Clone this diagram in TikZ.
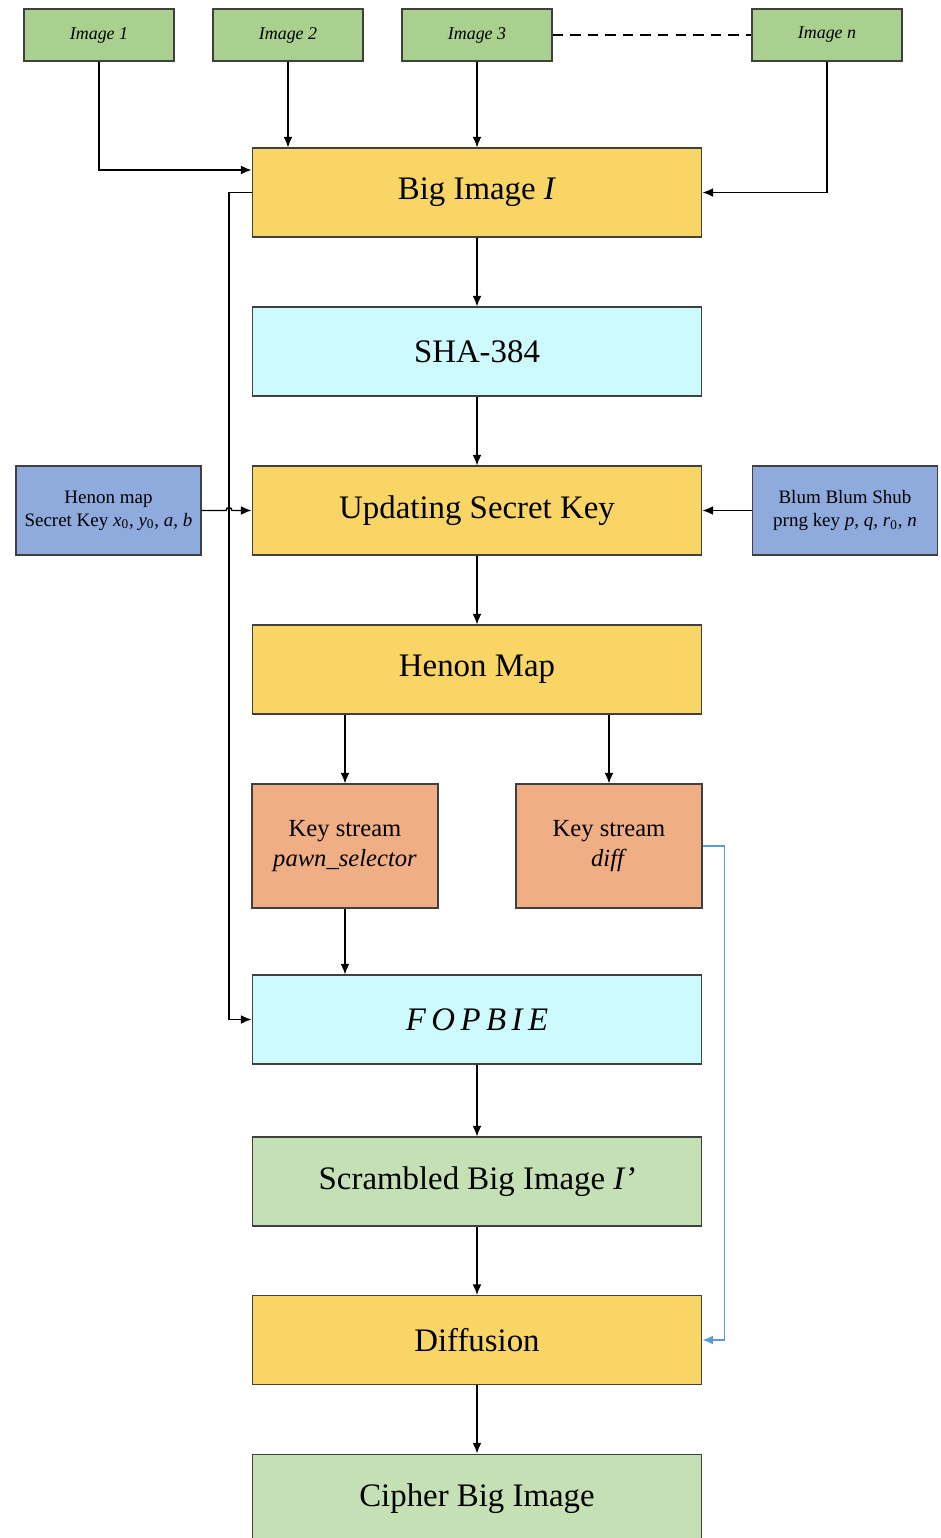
\documentclass[tikz,border=0pt]{standalone}
\usepackage{fontspec}
\setmainfont{Liberation Serif}
\usepackage{tikz}
\usetikzlibrary{arrows.meta}
\usetikzlibrary{calc}

\definecolor{imggreen}{HTML}{A9D08E}
\definecolor{stageyellow}{HTML}{F9D566}
\definecolor{hashcyan}{HTML}{CCFAFD}
\definecolor{keyblue}{HTML}{8FAADC}
\definecolor{streamorange}{HTML}{EFAE84}
\definecolor{outgreen}{HTML}{C5E0B4}
\definecolor{linkblue}{HTML}{5B9BD5}

\tikzset{
    box/.style={draw=black!75, line width=0.6pt, inner sep=0pt, align=center},
    imgbox/.style={box, fill=imggreen, minimum width=3cm, minimum height=1.04cm, font=\fontsize{10.2}{12}\selectfont\itshape},
    stage/.style={box, minimum width=9cm, minimum height=1.78cm, font=\fontsize{18.7}{22}\selectfont},
    keybox/.style={box, fill=keyblue, minimum width=3.7cm, minimum height=1.78cm, font=\fontsize{10.8}{13}\selectfont},
    streambox/.style={box, fill=streamorange, minimum width=3.72cm, minimum height=2.48cm, font=\fontsize{14}{17}\selectfont},
    flow/.style={-{Latex[length=6pt,width=5pt]}, line width=0.8pt},
}

\begin{document}
\begin{tikzpicture}[x=0.02cm, y=-0.02cm]
    \useasboundingbox (0,0) rectangle (940,1538);

    % input images
    \node[imgbox] (img1) at (99,35) {Image 1};
    \node[imgbox] (img2) at (288,35) {Image 2};
    \node[imgbox] (img3) at (477,35) {Image 3};
    \node[imgbox] (imgn) at (827,35) {Image n};

    % main chain
    \node[stage, fill=stageyellow] (big) at (477,192.5) {Big Image \textit{I}};
    \node[stage, fill=hashcyan] (sha) at (477,351.5) {SHA-384};
    \node[stage, fill=stageyellow] (upd) at (477,510.5) {Updating Secret Key};
    \node[stage, fill=stageyellow] (henon) at (477,669.5) {Henon Map};
    \node[streambox] (kssel) at (345,846) {Key stream\\\textit{pawn\_selector}};
    \node[streambox] (ksdiff) at (609,846) {Key stream\\\textit{diff}};
    \node[stage, fill=hashcyan] (fop) at (477,1019.5) {\textit{F\,O\,P\,B\,I\,E}};
    \node[stage, fill=outgreen] (scr) at (477,1181.5) {Scrambled Big Image \textit{I'}};
    \node[stage, fill=stageyellow] (dif) at (477,1340) {Diffusion};
    \node[stage, fill=outgreen] (cip) at (477,1498.5) {Cipher Big Image};

    % keys
    \node[keybox] (hkey) at (108.5,510.5) {Henon map\\Secret Key \textit{x}\textsubscript{0}, \textit{y}\textsubscript{0}, \textit{a}, \textit{b}};
    \node[keybox] (bbs) at (845,510.5) {Blum Blum Shub\\prng key \textit{p}, \textit{q}, \textit{r}\textsubscript{0}, \textit{n}};

    \coordinate (bus) at (229,192.5);

    % images into the big image
    \draw[flow] (img1.south) |- ($(big.north west)!0.25!(big.south west)$);
    \draw[flow] (img2.south) -- (img2.south |- big.north);
    \draw[flow] (img3.south) -- (big.north);
    \draw[flow] (imgn.south) |- (big.east);
    \draw[dashed, line width=0.8pt, dash pattern=on 6pt off 4pt] (img3.east) -- (imgn.west);

    % big image straight to FOPBIE
    \draw[flow] (big.west) -- (bus) |- (fop.west);

    \draw[flow] (big) -- (sha);
    \draw[flow] (sha) -- (upd);
    \draw[flow] (hkey.east) -- ($(bus |- hkey.east)+(-3,0)$) arc[start angle=180, end angle=0, radius=0.06cm] -- (upd.west);
    \draw[flow] (bbs.west) -- (upd.east);
    \draw[flow] (upd) -- (henon);
    \draw[flow] (kssel.north |- henon.south) -- (kssel.north);
    \draw[flow] (ksdiff.north |- henon.south) -- (ksdiff.north);
    \draw[flow] (kssel.south) -- (kssel.south |- fop.north);
    \draw[flow] (fop) -- (scr);
    \draw[flow] (scr) -- (dif);
    \draw[flow] (dif) -- (cip);

    % diff key stream feeds the diffusion
    \draw[flow, draw=linkblue, line width=0.6pt] (ksdiff.east) -- ++(22,0) |- (dif.east);
\end{tikzpicture}
\end{document}
